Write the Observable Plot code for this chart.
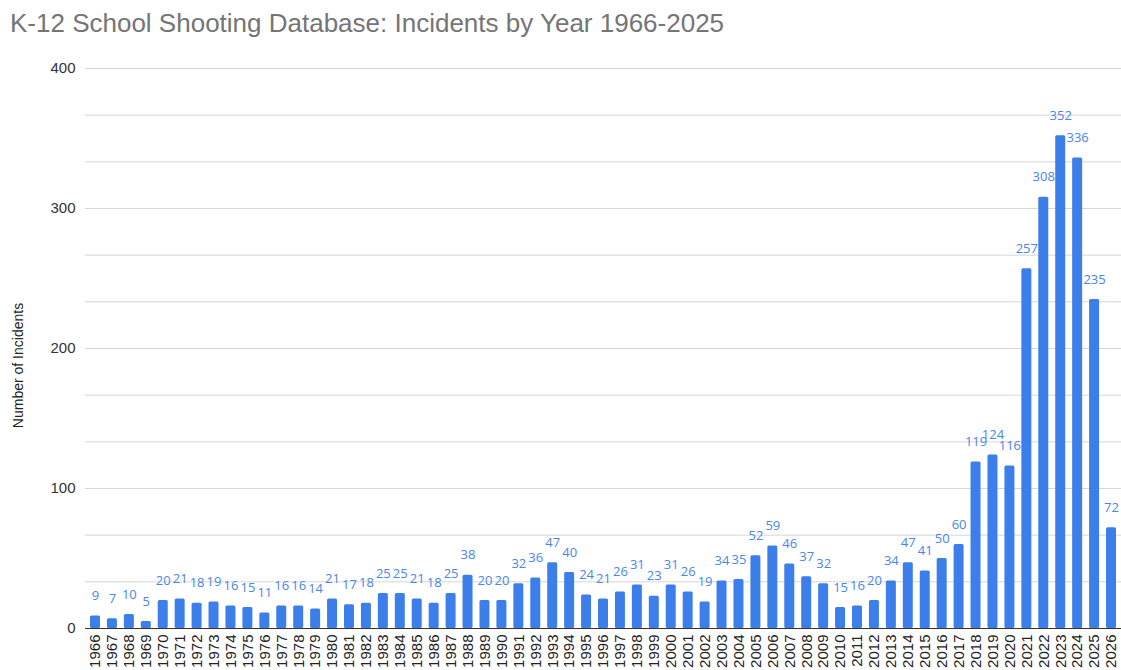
<!DOCTYPE html>
<html>
<head>
<meta charset="utf-8">
<script src="https://cdn.jsdelivr.net/npm/d3@7"></script>
<script src="https://cdn.jsdelivr.net/npm/@observablehq/plot@0.6"></script>
<style>
  html, body { margin: 0; padding: 0; background: #fff; overflow: hidden; }
  #title { height: 48px; font-family: "Liberation Sans", Arial, sans-serif; font-size: 26px; color: #757575; padding-left: 10px; line-height: 46px; box-sizing: border-box; white-space: nowrap; }
  #chart svg { display: block; }
</style>
</head>
<body>
<div id="title">K-12 School Shooting Database: Incidents by Year 1966-2025</div>
<div id="chart"></div>
<script>
const years = [1966,1967,1968,1969,1970,1971,1972,1973,1974,1975,1976,1977,1978,1979,1980,1981,1982,1983,1984,1985,1986,1987,1988,1989,1990,1991,1992,1993,1994,1995,1996,1997,1998,1999,2000,2001,2002,2003,2004,2005,2006,2007,2008,2009,2010,2011,2012,2013,2014,2015,2016,2017,2018,2019,2020,2021,2022,2023,2024,2025,2026];
const incidents = [9,7,10,5,20,21,18,19,16,15,11,16,16,14,21,17,18,25,25,21,18,25,38,20,20,32,36,47,40,24,21,26,31,23,31,26,19,34,35,52,59,46,37,32,15,16,20,34,47,41,50,60,119,124,116,257,308,352,336,235,72];
const yTickLabels = [0, 100, 200, 300, 400];
const yTitle = ["Number of Incidents"];
const gridValues = d3.range(0, 401, 100 / 3);

const data = years.map((y, i) => ({year: String(y), count: incidents[i]}));

const chart = Plot.plot({
  width: 1121,
  height: 622,
  marginLeft: 85,
  marginRight: 0,
  marginTop: 20,
  marginBottom: 42,
  style: {fontFamily: "'Liberation Sans', Arial, sans-serif", background: "#fff"},
  x: {type: "band", domain: years.map(String), paddingInner: 0.41, paddingOuter: 0.295, axis: null},
  y: {domain: [0, 400], axis: null},
  marks: [
    Plot.gridY(gridValues, {stroke: "#d6d6d6", strokeOpacity: 1}),
    Plot.barY(data, {x: "year", y: "count", fill: "#3d7fea", rx: 1.5}),
    Plot.ruleY([0], {stroke: "#333", strokeWidth: 1}),
    Plot.text(data, {x: "year", y: "count", text: d => String(d.count), dy: -20, fill: "#4a86e8", fontSize: 13, fontFamily: "'Open Sans', sans-serif"}),
    Plot.axisX({tickRotate: -90, tickSize: 0, tickPadding: 6, fontSize: 15, color: "#222", label: null}),
    Plot.axisY(yTickLabels, {tickSize: 0, tickPadding: 10, fontSize: 15, color: "#333", label: null}),
    Plot.text(yTitle, {frameAnchor: "left", textAnchor: "middle", rotate: -90, dx: -67, dy: 17, fontSize: 14, fill: "#222"})
  ]
});
document.getElementById("chart").appendChild(chart);
</script>
</body>
</html>
